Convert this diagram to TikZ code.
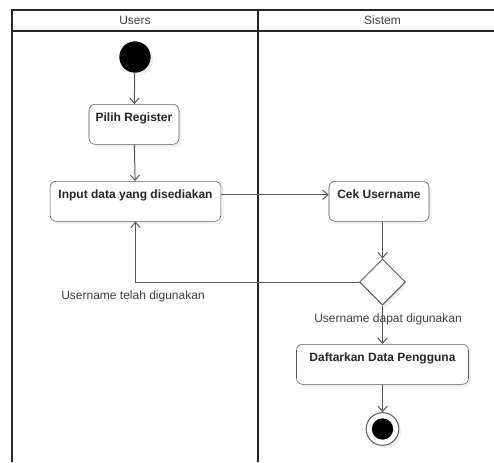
\documentclass[tikz,border=0pt]{standalone}
\usepackage{fontspec}
\setmainfont{Liberation Sans}
\usetikzlibrary{shapes.geometric,arrows.meta,shadows}

\tikzset{
	lane/.style={line width=1.5pt, draw=black!85},
	act/.style={draw=black!65, fill=white, rounded corners=4.5pt, anchor=north, inner xsep=2pt, inner ysep=0pt,
		text height=12.75pt, text depth=17.25pt, font=\bfseries\fontsize{9}{11}\selectfont, text=black!85,
		drop shadow={opacity=0.12, shadow xshift=2pt, shadow yshift=-2pt}},
	flow/.style={draw=black!65, line width=0.75pt, -{Straight Barb[length=4pt, width=7pt]}},
	guard/.style={font=\fontsize{9}{11}\selectfont, text=black!75, inner sep=0pt},
}

\begin{document}
\begin{tikzpicture}[x=0.75pt,y=0.75pt,yscale=-1,xscale=1]
	\useasboundingbox (0,0) rectangle (494,462);
	% swimlanes
	\draw [lane] (494,10) -- (12,10) -- (12,462);
	\draw [lane] (12,31) -- (494,31);
	\draw [lane] (258,10) -- (258,462);
	\node (users) at (135,20.5) [guard] {Users};
	\node (sistem) at (382.5,20.5) [guard] {Sistem};

	% activities
	\node (start) at (135,57) [circle, fill=black, minimum size=23.5pt, inner sep=0pt,
		drop shadow={opacity=0.12, shadow xshift=2pt, shadow yshift=-2pt}] {};
	\node (pilih) at (134,104) [act, minimum width=67.5pt] {Pilih Register};
	\node (input) at (135.5,181) [act, minimum width=128pt] {Input data yang disediakan};
	\node (cek) at (379,181) [act, minimum width=75pt] {Cek Username};
	\node (cabang) at (382.5,282) [diamond, draw=black!65, fill=white, line width=0.75pt, minimum width=34.5pt, minimum height=34.5pt, inner sep=0pt,
		drop shadow={opacity=0.12, shadow xshift=2pt, shadow yshift=-2pt}] {};
	\node (daftar) at (382.5,344) [act, minimum width=129pt] {Daftarkan Data Pengguna};
	\node (selesai) at (382.5,429) [circle, draw=black!65, fill=white, line width=0.75pt, minimum size=24.5pt, inner sep=0pt,
		drop shadow={opacity=0.12, shadow xshift=2pt, shadow yshift=-2pt}] {};
	\node (selesaidot) at (selesai) [circle, fill=black, minimum size=16pt, inner sep=0pt] {};

	% guards
	\node (telah) at (133,296.5) [guard] {Username telah digunakan};
	\node (dapat) at (388,319) [guard] {Username dapat digunakan};

	% flows
	\draw [flow] (start) -- (pilih);
	\draw [flow] (pilih) -- (input);
	\draw [flow] (input.mid east) -- (cek.mid west);
	\draw [flow] (cek.south -| cabang.north) -- (cabang.north);
	\draw [flow] (cabang.west) -| (input.south);
	\draw [flow] (cabang.south) -- (daftar.north);
	\draw [flow] (daftar.south) -- (selesai.north);
\end{tikzpicture}
\end{document}
